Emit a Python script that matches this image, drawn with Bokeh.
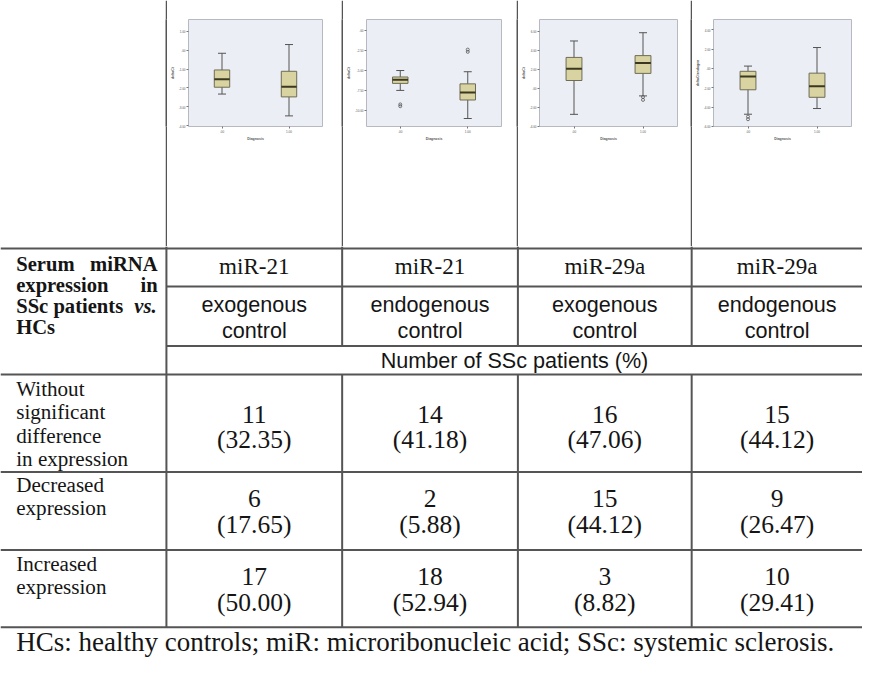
from bokeh.plotting import figure
from bokeh.layouts import row, column
from bokeh.models import ColumnDataSource, FactorRange, Range1d, FixedTicker, Whisker, TeeHead
from bokeh.transform import dodge
from bokeh.core.properties import value
from bokeh.embed import file_html
from bokeh.resources import INLINE

# ---------------- data ----------------
mirnas = ["miR-21", "miR-21", "miR-29a", "miR-29a"]
controls = ["exogenous", "endogenous", "exogenous", "endogenous"]
control_word = "control"
subheader = "Number of SSc patients (%)"
row_labels = [["Without", "significant", "difference", "in expression"],
              ["Decreased", "expression"],
              ["Increased", "expression"]]
counts = [[11, 14, 16, 15],
          [6, 2, 15, 9],
          [17, 18, 3, 10]]
percents = [["32.35", "41.18", "47.06", "44.12"],
            ["17.65", "5.88", "44.12", "26.47"],
            ["50.00", "52.94", "8.82", "29.41"]]
footnote = "HCs: healthy controls; miR: microribonucleic acid; SSc: systemic sclerosis."

diagnosis = [".00", "1.00"]
box_ylabels = ["deltaCt", "deltaCt", "deltaCt", "deltaCtendogen"]
box_lower = [[-2.32, -3.47], [-7.48, -11.0], [-2.72, -0.78], [-4.73, -4.14]]
box_q1 = [[-1.96, -2.47], [-6.60, -8.68], [0.84, 1.59], [-2.20, -2.98]]
box_med = [[-1.54, -1.93], [-6.15, -7.75], [2.08, 2.69], [-0.84, -1.84]]
box_q3 = [[-1.05, -1.12], [-5.80, -6.66], [3.27, 3.46], [-0.29, -0.48]]
box_upper = [[-0.17, 0.29], [-4.99, -5.14], [5.00, 5.87], [0.25, 2.17]]
outlier_cat = [[], [".00", ".00", "1.00", "1.00"], ["1.00", "1.00"], [".00", ".00"]]
outlier_val = [[], [-9.46, -9.23, -2.65, -2.37], [-0.90, -1.20], [-5.25, -4.98]]
y_ticks = [[-4, -3, -2, -1, 0, 1],
           [-10, -7.5, -5, -2.5, 0],
           [-4, -2, 0, 2, 4, 6],
           [-6, -4, -2, 0, 2, 4]]
y_tick_labels = [["-4.00", "-3.00", "-2.00", "-1.00", ".00", "1.00"],
                 ["-10.00", "-7.50", "-5.00", "-2.50", ".00"],
                 ["-4.00", "-2.00", ".00", "2.00", "4.00", "6.00"],
                 ["-6.00", "-4.00", "-2.00", ".00", "2.00", "4.00"]]

# ---------------- layout geometry (reference pixel space 878x673) ----------------
W, H = 862, 657
sx, sy = W / 878, H / 673
TOP = 252
top_px = round(TOP * sy)
bounds_ref = [0, 168, 170, 347, 349, 526, 528, 703, 705, 878]
bounds_px = [round(b * sx) for b in bounds_ref]
frames = [(187, 328, 19, 130), (368, 510, 16, 131), (545, 690, 15, 131), (723, 867, 15, 129)]
cells = [(170, 347), (349, 526), (528, 703), (705, 878)]
yranges = [(-4.03, 1.61), (-12.0, 1.4), (-4.0, 7.26), (-6.0, 5.07)]

LINE = "#555555"
BOX_FILL = "#d8d3a0"
BOX_LINE = "#6e6c55"
MED = "#3a3820"
PLOT_BG = "#eceef5"


def plain(w, h, color):
    f = figure(width=w, height=h, toolbar_location=None, output_backend="svg",
               x_axis_location=None, y_axis_location=None, min_border=0,
               x_range=Range1d(0, 1), y_range=Range1d(0, 1))
    f.background_fill_color = color
    f.border_fill_color = color
    f.outline_line_color = None
    f.grid.visible = False
    return f


top_children = [plain(bounds_px[1] - bounds_px[0], top_px, "white")]
for i in range(4):
    top_children.append(plain(bounds_px[2 + 2 * i] - bounds_px[1 + 2 * i], top_px, LINE))
    x0p, x1p = bounds_px[2 + 2 * i], bounds_px[3 + 2 * i]
    w = x1p - x0p
    fl, fr, ft, fb = frames[i]
    cl, cr = cells[i]
    ml = round((fl - cl) * sx)
    fw = round((fr - fl) * sx)
    mr = w - ml - fw
    mt = round(ft * sy)
    fh = round((fb - ft) * sy)
    mb = top_px - mt - fh
    bp = figure(width=w, height=top_px, toolbar_location=None, output_backend="svg",
                x_range=FactorRange(*diagnosis), y_range=Range1d(*yranges[i]),
                min_border_left=ml, min_border_right=mr, min_border_top=mt, min_border_bottom=mb)
    bp.background_fill_color = PLOT_BG
    bp.border_fill_color = "white"
    bp.outline_line_color = "#b8b8c2"
    bp.grid.visible = False
    src = ColumnDataSource(dict(cat=diagnosis, lo=box_lower[i], q1=box_q1[i], med=box_med[i],
                                q3=box_q3[i], hi=box_upper[i]))
    wh = Whisker(base="cat", upper="hi", lower="lo", source=src, level="underlay",
                 line_color="#555555", line_width=1,
                 upper_head=TeeHead(size=8, line_color="#555555", line_width=1),
                 lower_head=TeeHead(size=8, line_color="#555555", line_width=1))
    bp.add_layout(wh)
    bp.vbar(x="cat", width=0.23, top="q3", bottom="q1", source=src,
            fill_color=BOX_FILL, line_color=BOX_LINE, line_width=1)
    bp.segment(x0=dodge("cat", -0.115, range=bp.x_range), y0="med",
               x1=dodge("cat", 0.115, range=bp.x_range), y1="med",
               source=src, line_color=MED, line_width=2)
    if outlier_val[i]:
        bp.scatter(x=outlier_cat[i], y=outlier_val[i], marker="circle", size=3,
                   fill_color=None, line_color="#555555", line_width=0.8)
    bp.yaxis.ticker = FixedTicker(ticks=y_ticks[i])
    bp.yaxis.major_label_overrides = dict(zip(y_ticks[i], y_tick_labels[i]))
    bp.yaxis.axis_label = box_ylabels[i]
    bp.xaxis.axis_label = "Diagnosis"
    for ax in (bp.xaxis, bp.yaxis):
        ax.axis_line_color = None
        ax.major_tick_line_color = "#777777"
        ax.major_tick_out = 2
        ax.major_tick_in = 0
        ax.minor_tick_line_color = None
        ax.major_label_text_font_size = "3px"
        ax.major_label_text_color = "#555555"
        ax.major_label_standoff = 1
        ax.axis_label_text_font_size = "3.5px"
        ax.axis_label_text_font_style = "bold"
        ax.axis_label_text_color = "#555555"
        ax.axis_label_standoff = 1
        ax.major_label_text_font = "Liberation Sans"
        ax.axis_label_text_font = "Liberation Sans"
    top_children.append(bp)

top_row = row(*top_children, spacing=0)

# ---------------- table figure ----------------
tp = figure(width=W, height=H - top_px, toolbar_location=None, output_backend="svg",
            x_range=Range1d(0, 878), y_range=Range1d(673, TOP),
            x_axis_location=None, y_axis_location=None, min_border=0)
tp.background_fill_color = "white"
tp.border_fill_color = "white"
tp.outline_line_color = None
tp.grid.visible = False

col_edges = [169, 348, 527, 704, 878]
cx = [(col_edges[k] + col_edges[k + 1]) / 2 for k in range(4)]

# grid lines
hx0, hy0, hx1, hy1 = [], [], [], []
for y in (254, 383, 483, 563, 642):
    hx0.append(0); hx1.append(878); hy0.append(y); hy1.append(y)
for y in (293, 354):
    hx0.append(169); hx1.append(878); hy0.append(y); hy1.append(y)
# verticals
hx0.append(169); hx1.append(169); hy0.append(TOP); hy1.append(642)
for x in col_edges[1:4]:
    hx0 += [x, x]; hx1 += [x, x]; hy0 += [TOP, 383]; hy1 += [354, 642]
tp.segment(x0=hx0, y0=hy0, x1=hx1, y1=hy1, line_color=LINE, line_width=2)

TXT = "#151515"


def txt(xs, ys, ts, font, size, align="center", style="normal"):
    s = ColumnDataSource(dict(x=xs, y=ys, t=ts))
    tp.text(x="x", y="y", text="t", source=s, text_font=value(font),
            text_font_size=value(f"{size * sx:.1f}px"), text_font_style=style,
            text_align=align, text_baseline="middle", text_color=TXT)


SERIF = "Liberation Serif"
SANS = "Liberation Sans"

# left header (justified bold)
txt([16, 16, 16, 16], [270, 291, 313, 334], ["Serum", "expression", "SSc patients", "HCs"],
    SERIF, 21, "left", "bold")
txt([160, 160], [270, 291], ["miRNA", "in"], SERIF, 21, "right", "bold")
txt([159], [313], ["vs."], SERIF, 21, "right", "bold italic")

# column headers
txt(cx, [272] * 4, mirnas, SERIF, 23.5)
txt(cx, [311] * 4, controls, SANS, 22)
txt(cx, [338] * 4, [control_word] * 4, SANS, 22)
txt([(169 + 878) / 2], [369], [subheader], SANS, 22)

# row labels
row_label_y = [[398, 422, 446, 470], [496, 520], [577, 601]]
for r in range(3):
    txt([16] * len(row_labels[r]), row_label_y[r], row_labels[r], SERIF, 21.5, "left")

num_y = [(424, 450), (510, 537), (590, 617)]
for r in range(3):
    txt(cx, [num_y[r][0]] * 4, [str(c) for c in counts[r]], SERIF, 26)
    txt(cx, [num_y[r][1]] * 4, ["(" + p + ")" for p in percents[r]], SERIF, 26)

txt([16], [657], [footnote], SERIF, 27.5, "left")

layout = column(top_row, tp, spacing=0)
open("out.html", "w").write(file_html(layout, INLINE))
